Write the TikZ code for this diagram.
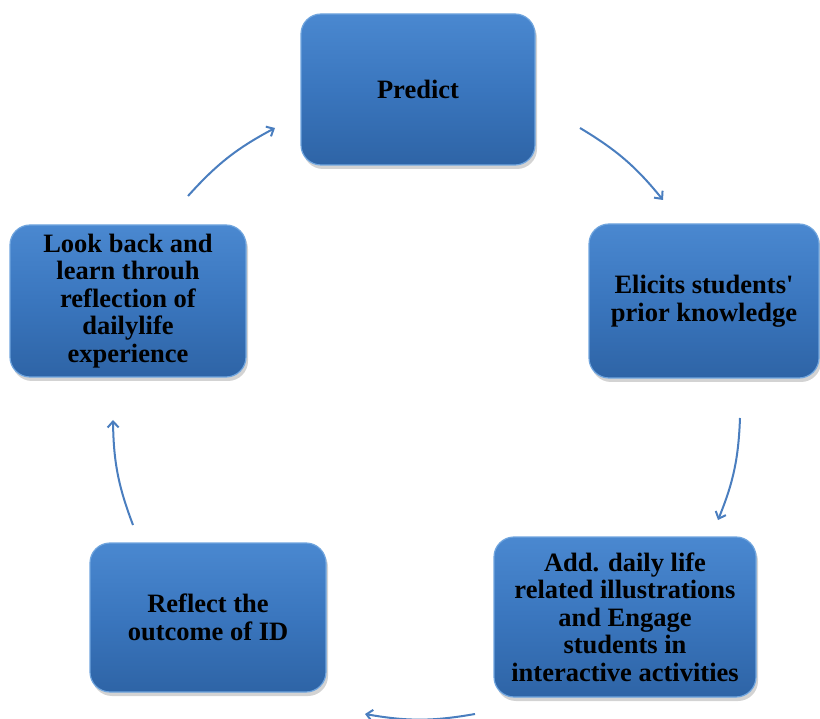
\documentclass[tikz,border=0pt]{standalone}
\usepackage{fontspec}
\newfontfamily\tnr{Liberation Serif}
\usetikzlibrary{shadows,arrows.meta}
\definecolor{boxtop}{RGB}{74,136,208}
\definecolor{boxmid}{RGB}{58,118,190}
\definecolor{boxbot}{RGB}{46,100,166}
\definecolor{boxedge}{RGB}{112,165,222}
\definecolor{arrowc}{RGB}{74,126,191}
\tikzset{
  cyclebox/.style={rectangle, rounded corners=20pt, top color=boxtop, bottom color=boxbot,
    middle color=boxmid, draw=boxedge, line width=1.2pt,
    drop shadow={shadow xshift=2pt, shadow yshift=-4pt, opacity=0.35},
    align=center, text=black, font=\tnr\bfseries\fontsize{26.5}{27.5}\selectfont, inner sep=2pt},
  cyclearrow/.style={draw=arrowc, line width=2pt, -{Straight Barb[length=6pt,width=11pt,line width=2pt]}, bend left=10}
}
\begin{document}
\begin{tikzpicture}[x=1pt,y=-1pt]
\useasboundingbox (0,0) rectangle (820,719);
\node[cyclebox, minimum width=234pt, minimum height=151pt] (predict) at (418,89.5) {Predict};
\node[cyclebox, minimum width=230pt, minimum height=154pt] (elicit) at (704,301) {Elicits students'\\prior knowledge};
\node[cyclebox, minimum width=262pt, minimum height=160pt] (add) at (625,617) {Add. daily life\\related illustrations\\and Engage\\students in\\interactive activities};
\node[cyclebox, minimum width=236pt, minimum height=149pt] (reflect) at (208,617.5) {Reflect the\\outcome of ID};
\node[cyclebox, minimum width=236pt, minimum height=152pt] (look) at (128,301) {Look back and\\learn throuh\\reflection of\\dailylife\\experience};
\coordinate (a1s) at (580,128); \coordinate (a1e) at (663,200);
\coordinate (a2s) at (740,418); \coordinate (a2e) at (718,520);
\coordinate (a3s) at (475,714); \coordinate (a3e) at (365,714);
\coordinate (a4s) at (133,525); \coordinate (a4e) at (113,420);
\coordinate (a5s) at (188,196); \coordinate (a5e) at (275,128);
\draw[cyclearrow] (a1s) to (a1e);
\draw[cyclearrow] (a2s) to (a2e);
\draw[cyclearrow] (a3s) to (a3e);
\draw[cyclearrow] (a4s) to (a4e);
\draw[cyclearrow] (a5s) to (a5e);
\end{tikzpicture}
\end{document}
